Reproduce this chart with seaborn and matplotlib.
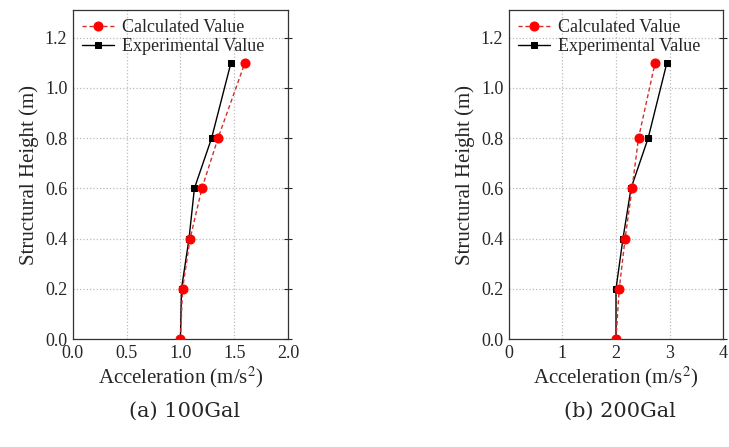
import numpy as np
import pandas as pd
import matplotlib
matplotlib.use("Agg")
import matplotlib.pyplot as plt
import seaborn as sns

heights = [0.0, 0.2, 0.4, 0.6, 0.8, 1.1]

calc_100 = [1.00, 1.02, 1.09, 1.20, 1.35, 1.60]
exp_100 = [1.00, 1.01, 1.08, 1.13, 1.29, 1.47]

calc_200 = [2.00, 2.06, 2.17, 2.30, 2.42, 2.73]
exp_200 = [2.00, 2.00, 2.13, 2.28, 2.60, 2.95]

panels = [
    ("(a) 100Gal", calc_100, exp_100, (0, 2.0), [0.0, 0.5, 1.0, 1.5, 2.0], ["0.0", "0.5", "1.0", "1.5", "2.0"]),
    ("(b) 200Gal", calc_200, exp_200, (0, 4), [0, 1, 2, 3, 4], ["0", "1", "2", "3", "4"]),
]

sns.set_style("white")
plt.rcParams["font.family"] = ["Liberation Serif", "DejaVu Serif"]
plt.rcParams["mathtext.fontset"] = "stix"

fig = plt.figure(figsize=(7.29, 4.47), dpi=100)
rects = [[0.100, 0.2416, 0.295, 0.736], [0.698, 0.2416, 0.294, 0.736]]

for rect, (caption, calc, exp, xlim, xt, xtl) in zip(rects, panels):
    ax = fig.add_axes(rect)
    df = pd.DataFrame({"acc": calc + exp, "h": heights * 2,
                       "series": ["Calculated Value"] * 6 + ["Experimental Value"] * 6})
    sns.lineplot(data=df[df.series == "Experimental Value"], x="acc", y="h", sort=False, orient="y",
                 color="black", linewidth=1.0, marker="s", markersize=5,
                 markeredgecolor="black", markerfacecolor="black",
                 label="Experimental Value", ax=ax, zorder=2)
    sns.lineplot(data=df[df.series == "Calculated Value"], x="acc", y="h", sort=False, orient="y",
                 color="#d03030", linestyle=(0, (3, 2)), linewidth=1.0, marker="o",
                 markersize=6.5, markeredgecolor="#ff0000", markerfacecolor="#ff0000",
                 label="Calculated Value", ax=ax, zorder=3)
    ax.set_xlim(*xlim)
    ax.set_ylim(0, 1.31)
    ax.set_xticks(xt)
    ax.set_xticklabels(xtl)
    ax.set_yticks([0.0, 0.2, 0.4, 0.6, 0.8, 1.0, 1.2])
    ax.set_yticklabels(["0.0", "0.2", "0.4", "0.6", "0.8", "1.0", "1.2"])
    ax.grid(True, color="#bbbbbb", linestyle=":", linewidth=0.9)
    ax.tick_params(axis="both", labelsize=13, direction="inout", length=6, width=0.8, pad=1)
    ax.tick_params(axis="y", right=True, which="both")
    for s in ax.spines.values():
        s.set_color("#333333")
        s.set_linewidth(0.9)
    ax.set_xlabel("Acceleration (m/s$^2$)", fontsize=15, labelpad=2)
    ax.set_ylabel("Structural Height (m)", fontsize=15, labelpad=4)
    handles, labels = ax.get_legend_handles_labels()
    ax.legend(handles[::-1], labels[::-1], loc="upper left", frameon=False, fontsize=13,
              handlelength=1.8, borderaxespad=0.1, labelspacing=0.1, handletextpad=0.4)
    fig.text(rect[0] + rect[2] / 2 + 0.005, 0.08, caption, ha="center", va="center",
             fontsize=15, family=["DejaVu Serif"])

fig.savefig("out.png", dpi=100)
